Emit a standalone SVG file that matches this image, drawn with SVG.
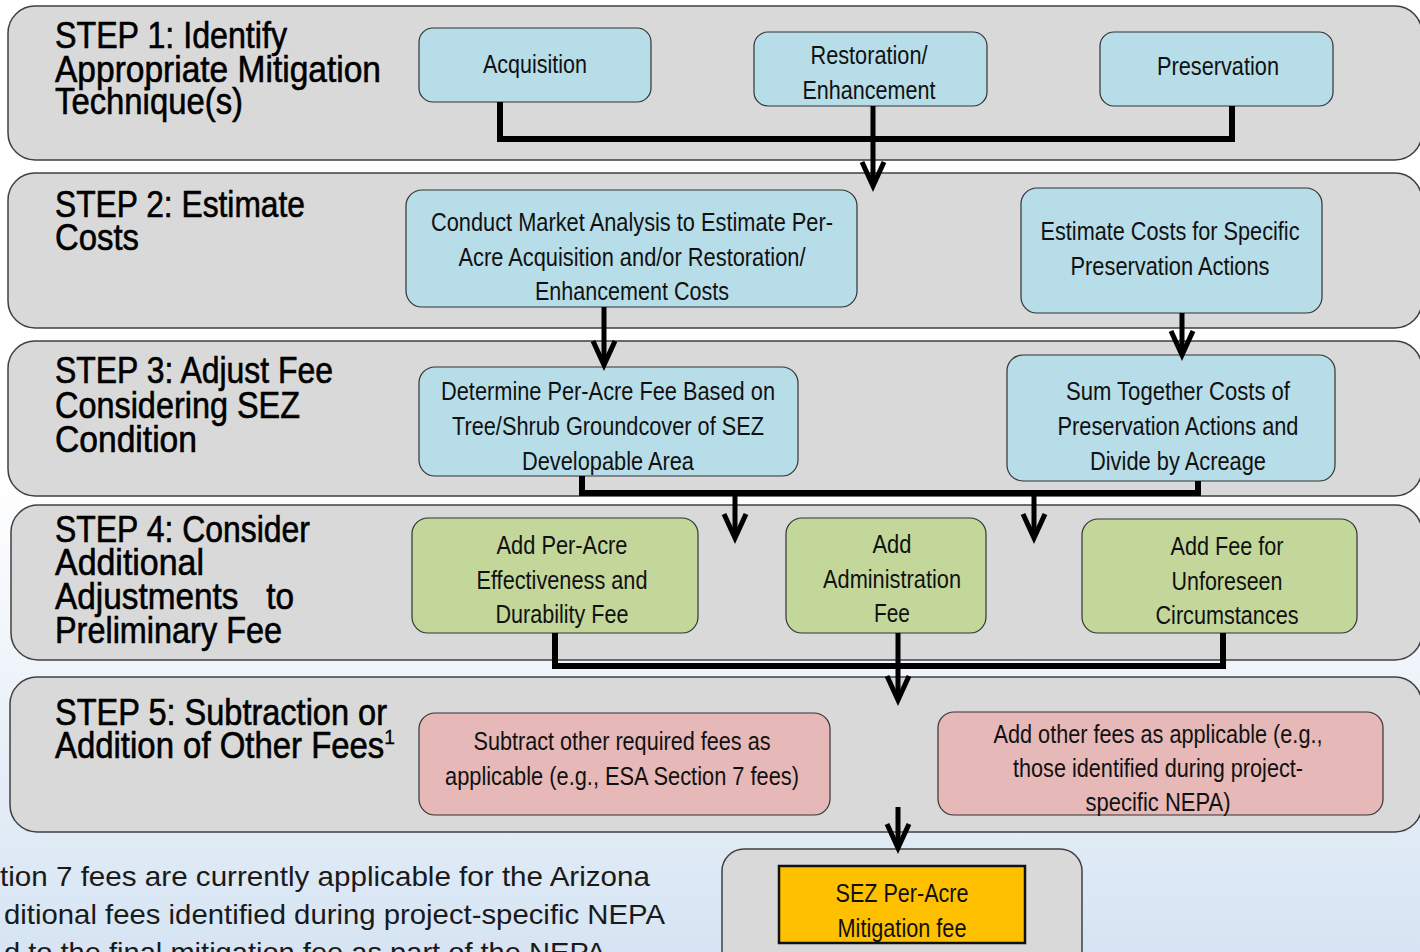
<svg xmlns="http://www.w3.org/2000/svg" width="1420" height="952" viewBox="0 0 1420 952">
<defs>
<linearGradient id="bg" x1="0" y1="0" x2="0" y2="1">
<stop offset="0" stop-color="#ffffff"/>
<stop offset="0.5" stop-color="#ffffff"/>
<stop offset="1" stop-color="#d6e4f3"/>
</linearGradient>
<path id="ah" d="M-11,-24 L0,0 L11,-24" fill="none" stroke="#000" stroke-width="5" stroke-linejoin="miter"/>
</defs>
<style>
.band{fill:#d9d9d9;stroke:#404040;stroke-width:1.5}
.blue{fill:#b7dde8;stroke:#333;stroke-width:1.2}
.green{fill:#c4d79b;stroke:#333;stroke-width:1.2}
.pink{fill:#e6b8b7;stroke:#333;stroke-width:1.2}
.orange{fill:#ffc000;stroke:#111;stroke-width:2.5}
.t{font-family:"Liberation Sans",Arial,sans-serif;font-size:25px;fill:#111;text-anchor:middle}
.h{font-family:"Liberation Sans",Arial,sans-serif;font-size:36px;fill:#000;stroke:#000;stroke-width:0.6}
.f{font-family:"Liberation Sans",Arial,sans-serif;font-size:28px;fill:#1a1a1a}
.bar{fill:none;stroke:#000;stroke-width:6}
.sh{fill:none;stroke:#000;stroke-width:5}
</style>
<rect x="0" y="0" width="1420" height="952" fill="url(#bg)"/>

<g id="step1">
<rect class="band" x="8" y="6" width="1414" height="154" rx="27"/>
<text class="h" x="55" y="48" textLength="232" lengthAdjust="spacingAndGlyphs">STEP 1: Identify</text>
<text class="h" x="55" y="82" textLength="326" lengthAdjust="spacingAndGlyphs">Appropriate Mitigation</text>
<text class="h" x="55" y="114" textLength="188" lengthAdjust="spacingAndGlyphs">Technique(s)</text>
</g>
<g id="step2">
<rect class="band" x="8" y="173" width="1414" height="155" rx="27"/>
<text class="h" x="55" y="217" textLength="250" lengthAdjust="spacingAndGlyphs">STEP 2: Estimate</text>
<text class="h" x="55" y="250" textLength="84" lengthAdjust="spacingAndGlyphs">Costs</text>
</g>
<g id="step3">
<rect class="band" x="8" y="341" width="1414" height="155" rx="27"/>
<text class="h" x="55" y="383" textLength="278" lengthAdjust="spacingAndGlyphs">STEP 3: Adjust Fee</text>
<text class="h" x="55" y="418" textLength="245" lengthAdjust="spacingAndGlyphs">Considering SEZ</text>
<text class="h" x="55" y="452" textLength="142" lengthAdjust="spacingAndGlyphs">Condition</text>
</g>
<g id="step4">
<rect class="band" x="11" y="505" width="1411" height="155" rx="27"/>
<text class="h" x="55" y="542" textLength="255" lengthAdjust="spacingAndGlyphs">STEP 4: Consider</text>
<text class="h" x="55" y="575" textLength="149" lengthAdjust="spacingAndGlyphs">Additional</text>
<text class="h" x="55" y="609" textLength="239" lengthAdjust="spacingAndGlyphs" xml:space="preserve">Adjustments   to</text>
<text class="h" x="55" y="643" textLength="227" lengthAdjust="spacingAndGlyphs">Preliminary Fee</text>
</g>
<g id="step5">
<rect class="band" x="10" y="677" width="1412" height="155" rx="27"/>
<text class="h" x="55" y="725" textLength="332" lengthAdjust="spacingAndGlyphs">STEP 5: Subtraction or</text>
<text class="h" x="55" y="758" textLength="340" lengthAdjust="spacingAndGlyphs">Addition of Other Fees<tspan dy="-14" style="font-size:21px;stroke-width:0.3">1</tspan></text>
</g>

<g id="acquisition">
<rect class="blue" x="419" y="28" width="232" height="74" rx="14"/>
<text class="t" x="535" y="73" textLength="104" lengthAdjust="spacingAndGlyphs">Acquisition</text>
</g>
<g id="restoration">
<rect class="blue" x="754" y="32" width="233" height="74" rx="14"/>
<text class="t" x="869" y="64" textLength="117" lengthAdjust="spacingAndGlyphs">Restoration/</text>
<text class="t" x="869" y="99" textLength="133" lengthAdjust="spacingAndGlyphs">Enhancement</text>
</g>
<g id="preservation">
<rect class="blue" x="1100" y="32" width="233" height="74" rx="14"/>
<text class="t" x="1218" y="75" textLength="122" lengthAdjust="spacingAndGlyphs">Preservation</text>
</g>
<g id="market">
<rect class="blue" x="406" y="190" width="451" height="117" rx="16"/>
<text class="t" x="632" y="231" textLength="402" lengthAdjust="spacingAndGlyphs">Conduct Market Analysis to Estimate Per-</text>
<text class="t" x="632" y="266" textLength="347" lengthAdjust="spacingAndGlyphs">Acre Acquisition and/or Restoration/</text>
<text class="t" x="632" y="300" textLength="194" lengthAdjust="spacingAndGlyphs">Enhancement Costs</text>
</g>
<g id="estimate">
<rect class="blue" x="1021" y="188" width="301" height="125" rx="16"/>
<text class="t" x="1170" y="240" textLength="259" lengthAdjust="spacingAndGlyphs">Estimate Costs for Specific</text>
<text class="t" x="1170" y="275" textLength="199" lengthAdjust="spacingAndGlyphs">Preservation Actions</text>
</g>
<g id="determine">
<rect class="blue" x="419" y="367" width="379" height="109" rx="16"/>
<text class="t" x="608" y="400" textLength="334" lengthAdjust="spacingAndGlyphs">Determine Per-Acre Fee Based on</text>
<text class="t" x="608" y="435" textLength="312" lengthAdjust="spacingAndGlyphs">Tree/Shrub Groundcover of SEZ</text>
<text class="t" x="608" y="470" textLength="172" lengthAdjust="spacingAndGlyphs">Developable Area</text>
</g>
<g id="sum">
<rect class="blue" x="1007" y="355" width="328" height="126" rx="16"/>
<text class="t" x="1178" y="400" textLength="224" lengthAdjust="spacingAndGlyphs">Sum Together Costs of</text>
<text class="t" x="1178" y="435" textLength="241" lengthAdjust="spacingAndGlyphs">Preservation Actions and</text>
<text class="t" x="1178" y="470" textLength="176" lengthAdjust="spacingAndGlyphs">Divide by Acreage</text>
</g>
<g id="effectiveness">
<rect class="green" x="412" y="518" width="286" height="115" rx="16"/>
<text class="t" x="562" y="554" textLength="131" lengthAdjust="spacingAndGlyphs">Add Per-Acre</text>
<text class="t" x="562" y="589" textLength="171" lengthAdjust="spacingAndGlyphs">Effectiveness and</text>
<text class="t" x="562" y="623" textLength="133" lengthAdjust="spacingAndGlyphs">Durability Fee</text>
</g>
<g id="admin">
<rect class="green" x="786" y="518" width="200" height="115" rx="16"/>
<text class="t" x="892" y="553" textLength="39" lengthAdjust="spacingAndGlyphs">Add</text>
<text class="t" x="892" y="588" textLength="138" lengthAdjust="spacingAndGlyphs">Administration</text>
<text class="t" x="892" y="622" textLength="36" lengthAdjust="spacingAndGlyphs">Fee</text>
</g>
<g id="unforeseen">
<rect class="green" x="1082" y="519" width="275" height="114" rx="16"/>
<text class="t" x="1227" y="555" textLength="113" lengthAdjust="spacingAndGlyphs">Add Fee for</text>
<text class="t" x="1227" y="590" textLength="111" lengthAdjust="spacingAndGlyphs">Unforeseen</text>
<text class="t" x="1227" y="624" textLength="143" lengthAdjust="spacingAndGlyphs">Circumstances</text>
</g>
<g id="subtract">
<rect class="pink" x="419" y="713" width="411" height="102" rx="16"/>
<text class="t" x="622" y="750" textLength="297" lengthAdjust="spacingAndGlyphs">Subtract other required fees as</text>
<text class="t" x="622" y="785" textLength="354" lengthAdjust="spacingAndGlyphs">applicable (e.g., ESA Section 7 fees)</text>
</g>
<g id="addother">
<rect class="pink" x="938" y="712" width="445" height="103" rx="16"/>
<text class="t" x="1158" y="743" textLength="329" lengthAdjust="spacingAndGlyphs">Add other fees as applicable (e.g.,</text>
<text class="t" x="1158" y="777" textLength="290" lengthAdjust="spacingAndGlyphs">those identified during project-</text>
<text class="t" x="1158" y="811" textLength="145" lengthAdjust="spacingAndGlyphs">specific NEPA)</text>
</g>
<g id="final">
<rect class="band" x="722" y="849" width="360" height="130" rx="22"/>
<rect class="orange" x="779" y="866" width="246" height="77"/>
<text class="t" x="902" y="902" textLength="133" lengthAdjust="spacingAndGlyphs">SEZ Per-Acre</text>
<text class="t" x="902" y="937" textLength="129" lengthAdjust="spacingAndGlyphs">Mitigation fee</text>
</g>

<g id="connectors">
<path class="bar" d="M500,102 V139 H1232 V106"/>
<path class="sh" d="M873,106 V183"/>
<use href="#ah" x="873" y="186"/>
<path class="sh" d="M604,307 V362"/>
<use href="#ah" x="604" y="365"/>
<path class="sh" d="M1182,313 V352"/>
<use href="#ah" x="1182" y="355"/>
<path class="bar" d="M582,476 V493 H1198 V481"/>
<path class="sh" d="M735,493 V535"/>
<use href="#ah" x="735" y="538"/>
<path class="sh" d="M1034,493 V535"/>
<use href="#ah" x="1034" y="538"/>
<path class="bar" d="M555,633 V666 H1223 V633"/>
<path class="sh" d="M898,633 V697"/>
<use href="#ah" x="898" y="700"/>
<path class="sh" d="M898,807 V845"/>
<use href="#ah" x="898" y="848"/>
</g>

<g id="footnote">
<text class="f" x="0" y="886" textLength="650" lengthAdjust="spacingAndGlyphs">tion 7 fees are currently applicable for the Arizona</text>
<text class="f" x="4" y="924" textLength="661" lengthAdjust="spacingAndGlyphs">ditional fees identified during project-specific NEPA</text>
<text class="f" x="4" y="962" textLength="602" lengthAdjust="spacingAndGlyphs">d to the final mitigation fee as part of the NEPA</text>
</g>
</svg>
